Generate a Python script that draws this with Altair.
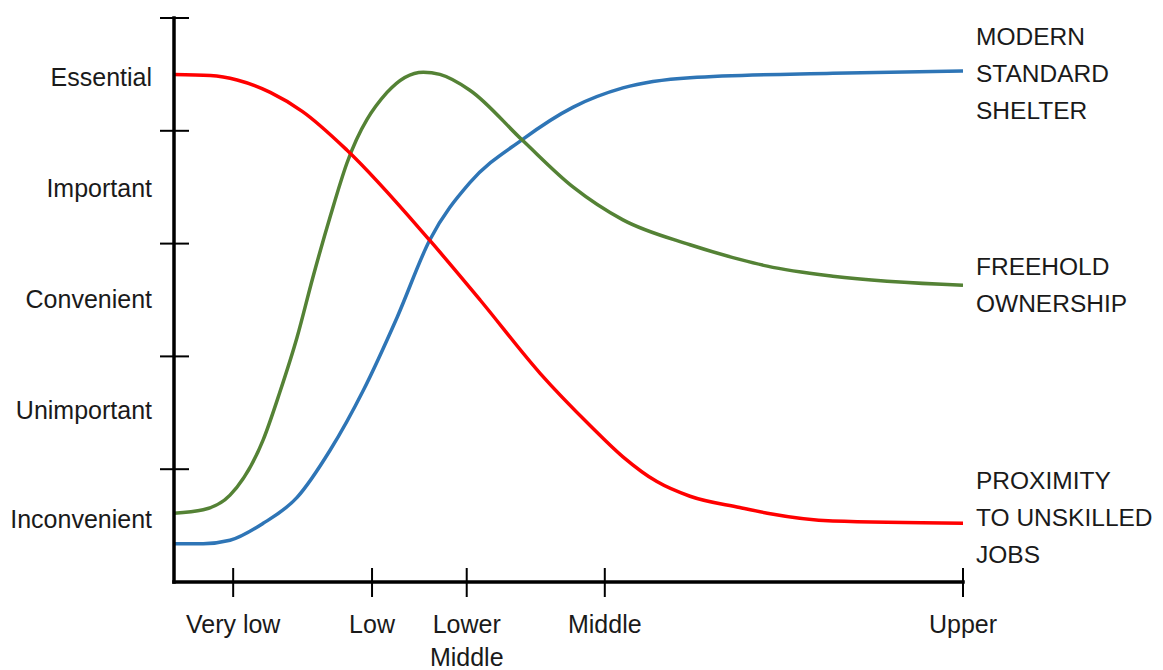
import altair as alt
import pandas as pd

# ---- data ----
# x: income level position (0-100), y: importance level (0-5)
income_pos = [7.5, 25.1, 37.1, 54.6, 100]
income_labels = ["Very low", "Low", "Lower\nMiddle", "Middle", "Upper"]

importance_pos = [0.55, 1.52, 2.50, 3.48, 4.47]
importance_labels = ["Inconvenient", "Unimportant", "Convenient", "Important", "Essential"]
tick_levels = [1, 2, 3, 4, 5]

prox_x = [0, 4.6, 8.0, 12.2, 16.3, 21.9, 32.4, 38.8, 46.4, 52.7, 56.9, 61.2, 65.4, 71.7, 75.2, 83.5, 100]
prox_y = [4.50, 4.49, 4.45, 4.34, 4.17, 3.83, 3.03, 2.50, 1.85, 1.39, 1.11, 0.89, 0.76, 0.66, 0.61, 0.54, 0.52]

free_x = [0, 3.7, 7.1, 11.3, 13.4, 15.6, 17.6, 19.8, 21.9, 27.0, 31.6, 33.7, 37.5, 44.1, 50.6, 56.9, 65.4, 71.7, 75.2, 83.5, 100]
free_y = [0.61, 0.64, 0.77, 1.26, 1.68, 2.17, 2.70, 3.24, 3.71, 4.34, 4.52, 4.50, 4.36, 3.92, 3.50, 3.21, 2.99, 2.86, 2.80, 2.71, 2.63]

shel_x = [0, 3.7, 7.1, 11.3, 15.6, 19.8, 24.0, 28.3, 32.4, 37.5, 44.1, 50.6, 56.9, 65.4, 83.5, 100]
shel_y = [0.34, 0.34, 0.37, 0.52, 0.75, 1.17, 1.70, 2.35, 3.03, 3.54, 3.92, 4.21, 4.38, 4.47, 4.51, 4.53]

series_names = ["MODERN STANDARD SHELTER", "FREEHOLD OWNERSHIP", "PROXIMITY TO UNSKILLED JOBS"]
series_colors = ["#2E75B6", "#548235", "#FF0000"]
end_labels = ["MODERN\nSTANDARD\nSHELTER", "FREEHOLD\nOWNERSHIP", "PROXIMITY\nTO UNSKILLED\nJOBS"]
end_label_y = [4.82, 2.78, 0.89]

# ---- tables ----
rows = []
for name, xs_, ys_ in [(series_names[0], shel_x, shel_y),
                       (series_names[1], free_x, free_y),
                       (series_names[2], prox_x, prox_y)]:
    for i, (a, b) in enumerate(zip(xs_, ys_)):
        rows.append({"series": name, "x": a, "y": b, "order": i})
curves = pd.DataFrame(rows)

FONT = "Liberation Sans, Arial, sans-serif"
TXT = "#1a1a1a"
W, H = 789, 564

xs = alt.Scale(domain=[0, 100], nice=False, zero=False)
ys = alt.Scale(domain=[0, 5], nice=False, zero=False)

lines = alt.Chart(curves).mark_line(strokeWidth=3.5, interpolate="monotone").encode(
    x=alt.X("x:Q", scale=xs, axis=None),
    y=alt.Y("y:Q", scale=ys, axis=None),
    color=alt.Color("series:N", scale=alt.Scale(domain=series_names, range=series_colors), legend=None),
    order="order:Q",
)

axis_df = pd.DataFrame({"k": [0]})
y_axis_line = alt.Chart(axis_df).mark_rule(color="black", strokeWidth=3.5, strokeCap="square").encode(
    x=alt.value(0), y=alt.value(0), y2=alt.value(H),
)
x_axis_line = alt.Chart(axis_df).mark_rule(color="black", strokeWidth=3.5, strokeCap="square").encode(
    y=alt.value(H), x=alt.value(0), x2=alt.value(W),
)

ytick = alt.Chart(pd.DataFrame({"v": tick_levels})).mark_rule(color="black", strokeWidth=2).encode(
    y=alt.Y("v:Q", scale=ys, axis=None),
    x=alt.value(-14), x2=alt.value(15),
)

xtick = alt.Chart(pd.DataFrame({"v": income_pos})).mark_rule(color="black", strokeWidth=2).encode(
    x=alt.X("v:Q", scale=xs, axis=None),
    y=alt.value(H - 14), y2=alt.value(H + 15),
)

ylab = alt.Chart(pd.DataFrame({"v": importance_pos, "t": importance_labels})).mark_text(
    align="right", baseline="middle", font=FONT, fontSize=25, color=TXT
).encode(
    y=alt.Y("v:Q", scale=ys, axis=None),
    x=alt.value(-22),
    text="t:N",
)

xlab = alt.Chart(pd.DataFrame({"v": income_pos, "t": income_labels})).mark_text(
    align="center", baseline="alphabetic", font=FONT, fontSize=25, color=TXT,
    lineBreak="\n", lineHeight=33
).encode(
    x=alt.X("v:Q", scale=xs, axis=None),
    y=alt.value(615),
    text="t:N",
)

endlab = alt.Chart(pd.DataFrame({"x": [100, 100, 100], "y": end_label_y, "t": end_labels})).mark_text(
    align="left", baseline="middle", font=FONT, fontSize=24.5, color=TXT,
    lineBreak="\n", lineHeight=37, dx=13
).encode(
    x=alt.X("x:Q", scale=xs, axis=None),
    y=alt.Y("y:Q", scale=ys, axis=None),
    text="t:N",
)

chart = alt.layer(lines, y_axis_line, x_axis_line, ytick, xtick, ylab, xlab, endlab).properties(
    width=W, height=H,
    padding={"left": 166, "top": 10, "right": 191, "bottom": 88},
    autosize=alt.AutoSizeParams(type="none"),
    view=alt.ViewBackground(stroke="transparent", strokeWidth=0),
).configure_view(stroke="transparent", strokeWidth=0).configure(background="white")

chart.save("out.html", embed_options={"renderer": "svg", "actions": False})
